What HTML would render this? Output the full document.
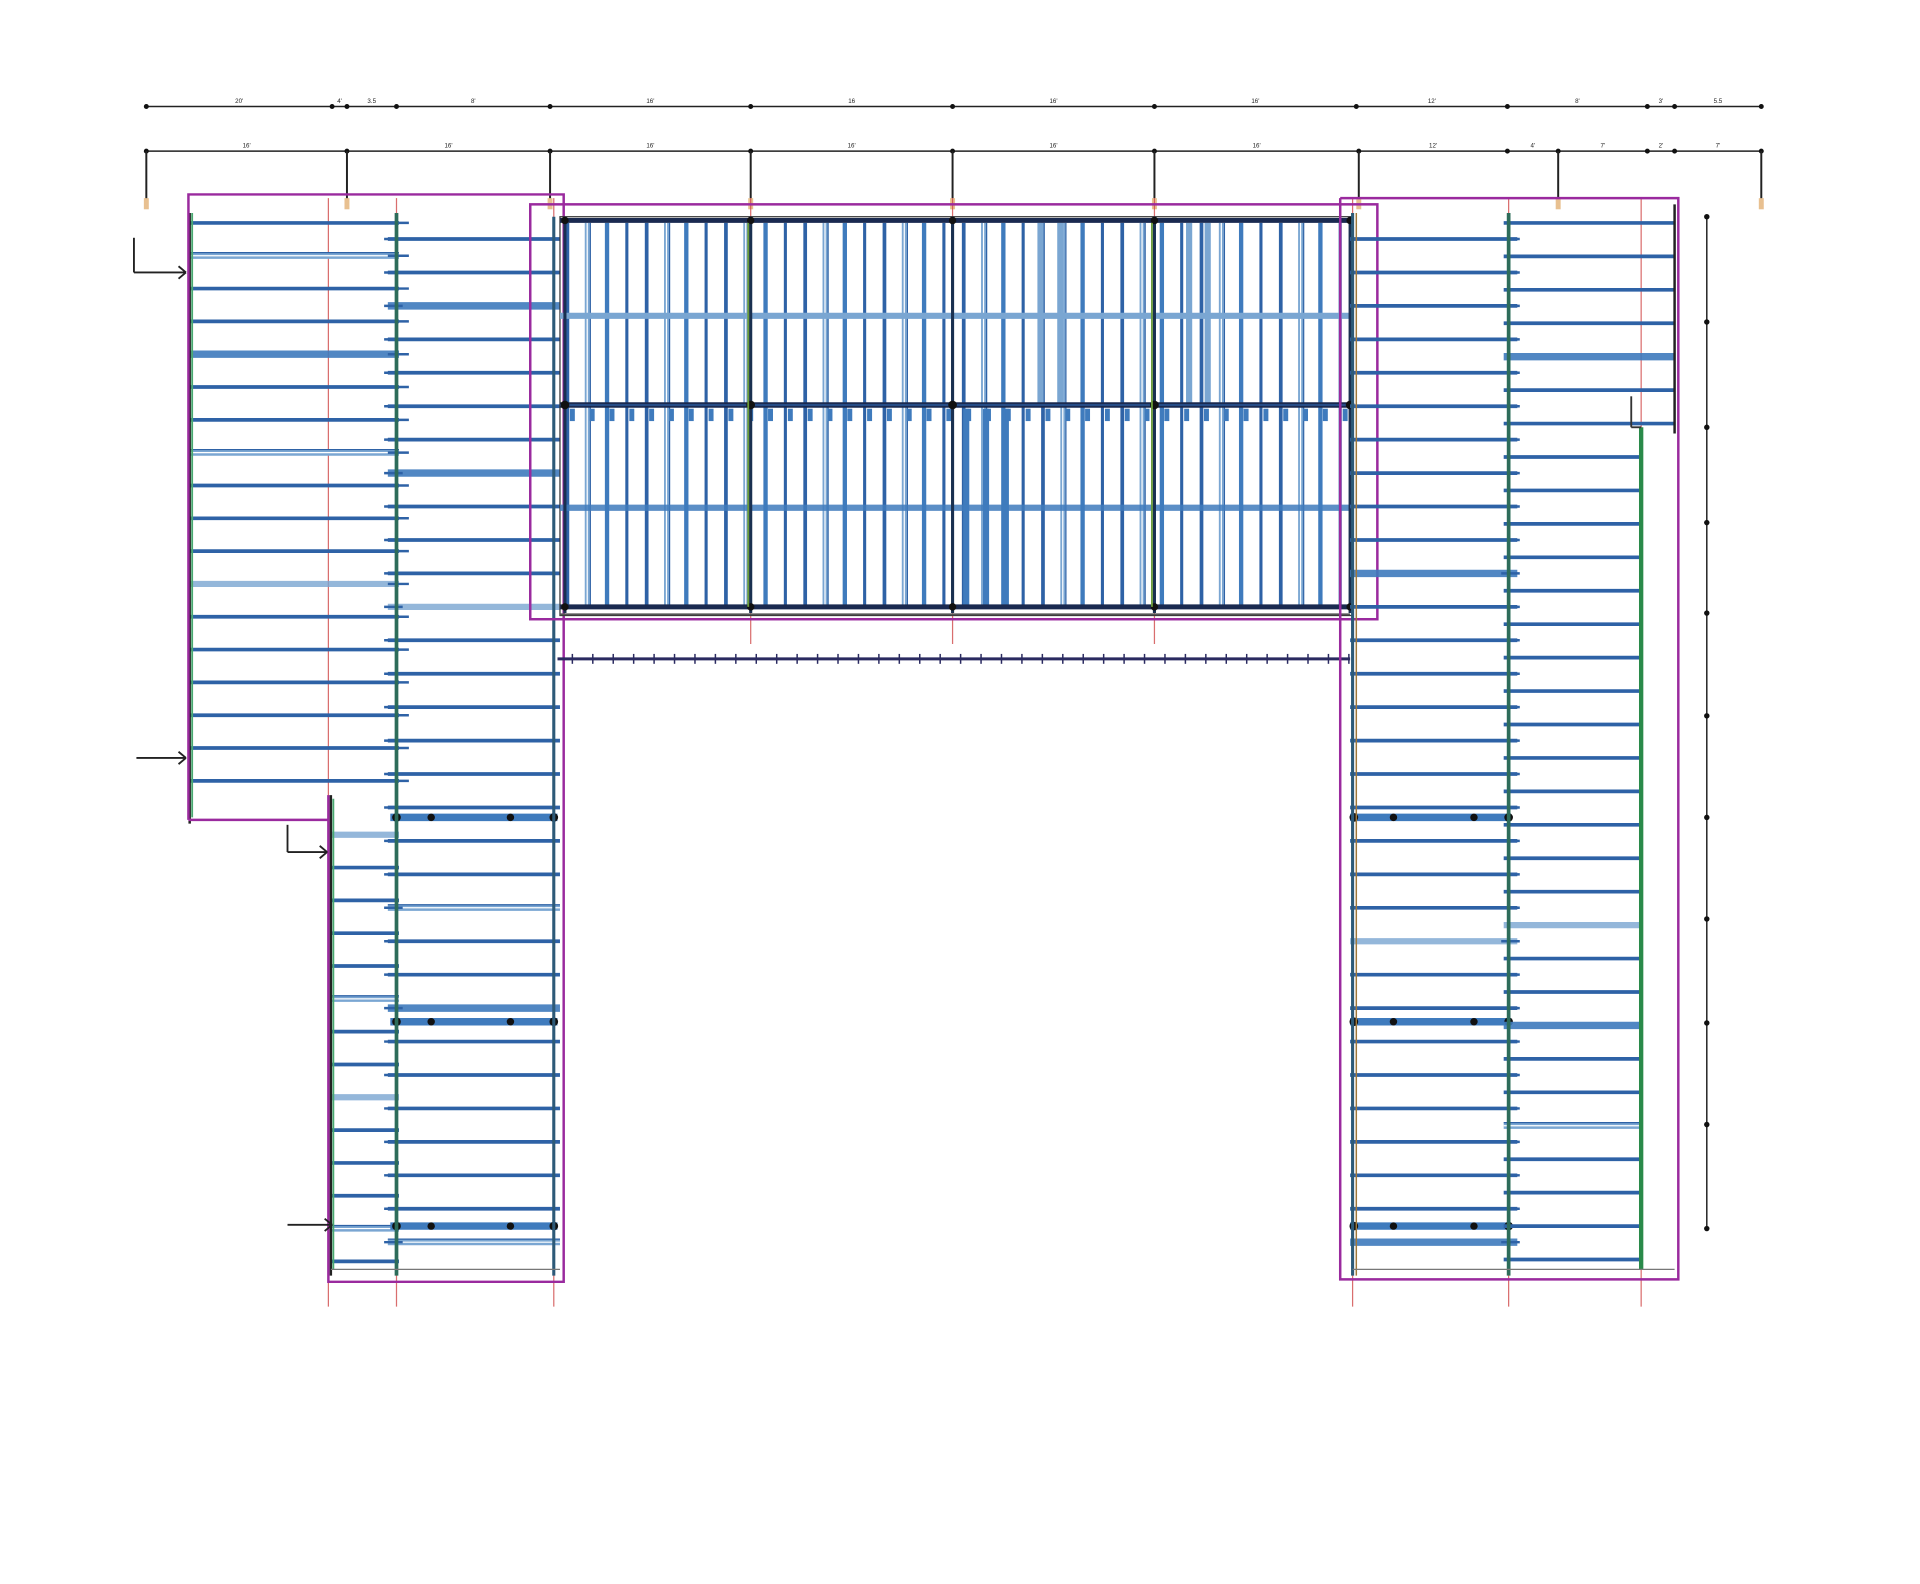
<!DOCTYPE html>
<html><head><meta charset="utf-8"><style>
html,body{margin:0;padding:0;background:#fff;width:1920px;height:1584px;overflow:hidden}
svg{display:block}
text{font-family:"Liberation Sans",sans-serif}
</style></head><body>
<svg id="s" width="1920" height="1584" viewBox="0 0 1550 1279" xmlns="http://www.w3.org/2000/svg">
<rect width="1550" height="1279" fill="#fff"/>
<g id="g"></g>
</svg>
<script>
var g=document.getElementById('g'),out='';
function L(x1,y1,x2,y2,c,w,o){out+='<line x1="'+x1+'" y1="'+y1+'" x2="'+x2+'" y2="'+y2+'" stroke="'+c+'" stroke-width="'+w+'"'+(o?' opacity="'+o+'"':'')+'/>';}
function R(x,y,w,h,c,sw){out+='<rect x="'+x+'" y="'+y+'" width="'+w+'" height="'+h+'" fill="none" stroke="'+c+'" stroke-width="'+sw+'"/>';}
function D(x,y,r,c){out+='<circle cx="'+x+'" cy="'+y+'" r="'+(r||2.5)+'" fill="'+(c||'#111')+'"/>';}
function T(x,y,t,s){out+='<text x="'+x+'" y="'+y+'" font-size="'+(s||5)+'" text-anchor="middle" fill="#222">'+t+'</text>';}
var DK='#2e62a6',MD='#3f7bbd',LT='#7aa6d2',PU='#9a2a9e',RD='#d04a4a';
function J(x1,x2,y,k){
  if(k==1){L(x1,y,x2,y,MD,6,0.9);}
  else if(k==2){L(x1,y,x2,y,LT,5);L(x1,y,x2,y,'#fff',1);L(x1,y-2.5,x2,y-2.5,DK,1);}
  else if(k==3){L(x1,y,x2,y,LT,5,0.8);}
  else {L(x1,y,x2,y,DK,3);}
}
var t1=[118,268,280,320,444,606,769,932,1095,1217,1330,1352,1422];
L(118,86,1422,86,'#222',1.2);
t1.forEach(function(x){D(x,86,2);});
var l1=['20\'','4\'','3.5','8\'','16\'','16','16\'','16\'','12\'','8\'','3\'','5.5'];
for(var i=0;i<t1.length-1;i++)T((t1[i]+t1[i+1])/2,83,l1[i]);
var t2=[118,280,444,606,769,932,1097,1217,1258,1330,1352,1422];
L(118,122,1422,122,'#222',1.2);
t2.forEach(function(x){D(x,122,2);});
var l2=['16\'','16\'','16\'','16\'','16\'','16\'','12\'','4\'','7\'','2\'','7\''];
for(var i=0;i<t2.length-1;i++)T((t2[i]+t2[i+1])/2,119,l2[i]);
[118,280,444,606,769,932,1097,1258,1422].forEach(function(x){L(x,122,x,165,'#222',1.6);out+='<rect x="'+(x-2)+'" y="160" width="4" height="9" fill="#e8c090"/>';});
[265,320,447,1092,1218,1325].forEach(function(x){L(x,160,x,1055,RD,1,0.8);});
[606,769,932].forEach(function(x){L(x,160,x,520,RD,1,0.8);});
var y,k,i,x;
var pat=[0,2,0,0,1,0,0,2,0,0,0,3,0,0,0,0,0,0,0,0,2,0,0,0,0];
for(i=0,y=180;y<=655;y+=26.5,i++){J(153,322,y,pat[i%pat.length]);L(313,y,330,y,DK,2);}
L(153,172,153,665,'#222',2);L(155,172,155,660,'#49a870',1.5);
var pat2=[3,0,0,0,0,2,0,0,3,0,0,0,2,0,0,0,0,2,0,0,0];
for(i=0,y=674;y<=1020;y+=26.5,i++){J(267,322,y,pat2[i%pat2.length]);}
L(267,642,267,1030,'#222',2);L(269,645,269,1025,'#49a870',1.5);
var pat3=[0,0,1,0,0,0,0,1,0,0,0,3,0,0,0,0,0,0,0,0,2,0,0,1,0,0,0,0,0,0,2,0,1,0];
for(i=0,y=193;y<=1020;y+=27,i++){var kk=pat3[i%pat3.length];J(313,452,y,kk);L(310,y,325,y,DK,2);}
[660,825,990].forEach(function(y){L(315,y,450,y,MD,6);D(320,y,3.5);D(348,y,3);D(412,y,3);D(447,y,3.5);});
L(320,172,320,1030,'#2d6c5a',3);L(447,175,447,1030,'#2d5a78',2.5);
out+='<polyline points="152,662 152,157 455,157 455,1035 265,1035 265,642" fill="none" stroke="'+PU+'" stroke-width="2"/>';
L(152,662,265,662,PU,2);
L(267,1025,452,1025,'#777',1);
R(428,165,684,335,PU,2);R(452,175,640,322,'#333',1);
for(i=0,x=458;x<1088;x+=16,i++){
  var m=i%4;
  if(m==0){L(x,180,x,490,DK,3);}
  else if(m==1){L(x,180,x,490,LT,4);L(x,180,x,490,'#fff',1);L(x+2.5,180,x+2.5,490,DK,1);}
  else if(m==2){L(x,180,x,490,MD,3.5);}
  else {L(x,180,x,490,DK,2.5);}
}
[780,796,812].forEach(function(x){L(x,330,x,490,MD,5);});
[840,856,960,975].forEach(function(x){L(x,180,x,325,LT,5);});
L(452,255,1090,255,LT,5);L(452,410,1090,410,MD,5,0.85);
L(452,178,1090,178,'#1a2a50',4);L(452,327,1090,327,'#1a2a50',4.5);L(452,490,1090,490,'#1a2a50',4);L(452,496,1090,496,'#555',1.5);
L(452,327,1090,327,DK,1);
for(x=462;x<1090;x+=16){out+='<rect x="'+(x-2)+'" y="330" width="4" height="10" fill="'+MD+'"/>';}
[606,769,932,1090,456].forEach(function(x){L(x,175,x,495,'#1a3050',2.5);D(x,178,3);D(x,327,3.5);D(x,490,3);});
L(604,180,604,490,'#6a9a3a',1.5);L(930,180,930,490,'#6a9a3a',1.5);
L(450,532,1090,532,'#2a2a60',2.5);
for(x=462;x<1090;x+=16.5){L(x,528,x,536,'#2a2a60',1.2);}
out+='<polyline points="1082,160 1355,160 1355,1033 1082,1033 1082,160" fill="none" stroke="'+PU+'" stroke-width="2"/>';
R(1082,165,30,335,PU,1.5);
var pr=[0,0,0,0,0,0,0,0,0,0,1,0,0,0,0,0,0,0,0,0,0,3,0,0,0,0,0,0,0,0,1,0];
for(i=0,y=193;y<=1020;y+=27,i++){J(1090,1225,y,pr[i%pr.length]);L(1212,y,1227,y,DK,2);}
[660,825,990].forEach(function(y){L(1090,y,1220,y,MD,6);D(1093,y,3.5);D(1125,y,3);D(1190,y,3);D(1218,y,3.5);});
var pr2=[0,0,0,0,1,0,0,0,0,0,0,0,0,0,0,0,0,0,0,0,0,3,0,0,1,0,0,2,0,0,0,0];
for(i=0,y=180;y<=1020;y+=27,i++){var xe=(y<345)?1352:1325;J(1214,xe,y,pr2[i%pr2.length]);}
L(1218,172,1218,1030,'#2d6c5a',3);L(1092,172,1092,1030,'#2d5a78',2.5);L(1095,172,1095,1030,'#a0783a',1.2);
L(1325,345,1325,1025,'#2a8a4a',3.5);L(1352,165,1352,350,'#222',2);L(1317,320,1317,345,'#333',1.5);L(1317,345,1325,345,'#333',1.5);
L(1092,1025,1352,1025,'#777',1);
L(1378,175,1378,992,'#222',1.2);
[175,260,345,422,495,578,660,742,826,908,992].forEach(function(y){D(1378,y,2.2);});
function A(x1,x2,y2,vx,vh){ if(vx!==undefined){L(vx,y2-vh,vx,y2,'#222',1.5);}L(x1,y2,x2,y2,'#222',1.5);L(x2-6,y2-5,x2,y2,'#222',1.5);L(x2-6,y2+5,x2,y2,'#222',1.5);}
A(108,150,220,108,28);A(110,150,612);A(232,264,688,232,22);A(232,268,989);
</script>
<script>document.getElementById('g').innerHTML=out;</script>
</body></html>
